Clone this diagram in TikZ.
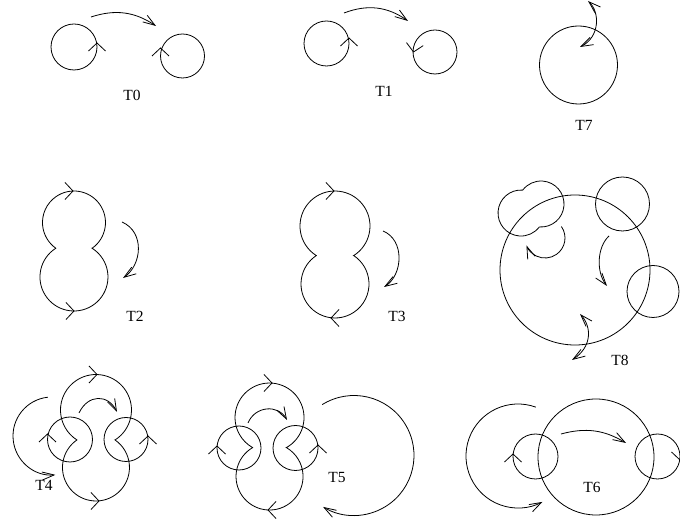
\documentclass[tikz,border=0pt]{standalone}
\usepackage{fontspec}
\setmainfont{Liberation Serif}
\usetikzlibrary{arrows.meta}
% direction mark on a loop: tip at (#1,#2), pointing at angle #3
\newcommand{\chev}[3]{\draw[shift={(#1,#2)}, rotate=#3] (-8,8.5) -- (0,0) -- (-8,-8.5);}

\begin{document}
\begin{tikzpicture}[x=1pt, y=1pt, line width=0.8pt,
    >={Straight Barb[length=12pt,width=8pt]},
    lbl/.style={font=\fontsize{15.5}{18}\selectfont, inner sep=0pt},
    mv/.style={->},
    sw/.style={<->}]
  \useasboundingbox (0,0) rectangle (680,527);
  % T0
  \draw (74,480) circle[radius=23];
  \chev{97}{484}{90}
  \draw (182.5,471) circle[radius=22];
  \chev{160.5}{479}{90}
  \draw[mv] (91,510) to[bend left=26] (156,501);
  \node[lbl] (t0) at (132,432) {T0};
  % T1
  \draw (326.5,483.5) circle[radius=22.5];
  \chev{349}{489}{90}
  \draw (435,475) circle[radius=22];
  \chev{413.5}{475}{260}
  \draw[mv] (344,514) to[bend left=28] (408,506);
  \node[lbl] (t1) at (384,436) {T1};
  % T7
  \draw (578.5,462) circle[radius=39];
  \draw[sw] (580,480) .. controls (600,490) and (600,515) .. (588,526);
  \node[lbl] (t7) at (584,402) {T7};
  % T2
  \draw (92.14,278.75) arc[start angle=-54.8, end angle=234.8, radius=31.5]
    arc[start angle=122.25, end angle=417.75, radius=34] -- cycle;
  \chev{73}{336}{0}
  \chev{74}{216}{0}
  \draw[mv] (122,305) .. controls (145,295) and (142,262) .. (123,249);
  \node[lbl] (t2) at (135,211) {T2};
  % T3
  \draw (353.7,271.4) arc[start angle=-57.7, end angle=237.7, radius=35]
    arc[start angle=123.4, end angle=416.6, radius=34] -- cycle;
  \chev{334}{336}{0}
  \chev{331}{209}{180}
  \draw[mv] (383,296) .. controls (405,287) and (403,252) .. (384,240);
  \node[lbl] (t3) at (397,211) {T3};
  % T8
  \draw (575,257) circle[radius=75];
  \draw (522.7,336.9) arc[start angle=85.8, end angle=322.8, radius=23]
    arc[start angle=-94.2, end angle=142.8, radius=23] -- cycle;
  \draw (622.5,323) circle[radius=27];
  \draw (653,235.5) circle[radius=26];
  \draw[mv] (545,289) ++(35:20) arc[start angle=35, end angle=-158, radius=20];
  \draw[mv] (609,291) .. controls (597,280) and (596,255) .. (607,241);
  \draw[sw] (580,213) .. controls (592,200) and (592,180) .. (572,167);
  \node[lbl] (t8) at (620,167) {T8};
  % T4
  \draw (115.06,87.05) arc[start angle=-57.5, end angle=237.5, radius=35.5]
    arc[start angle=124.7, end angle=415.3, radius=33.5] -- cycle;
  \draw (70,87.5) circle[radius=22.5];
  \draw (126,87.5) circle[radius=22];
  \chev{47.5}{93}{90}
  \chev{148}{91}{90}
  \chev{97}{152.5}{0}
  \chev{99}{26}{0}
  \draw[mv] (79,114) .. controls (88,133) and (108,133) .. (117,115);
  \draw[mv] (52,91) ++(96:39) arc[start angle=96, end angle=275, radius=39];
  \node[lbl] (t4) at (44,42) {T4};
  % T5
  \draw (286.4,79.4) arc[start angle=-60.7, end angle=240.7, radius=34.5]
    arc[start angle=120.3, end angle=419.7, radius=33.5] -- cycle;
  \draw (239,79) circle[radius=22];
  \draw (295.5,79) circle[radius=22.5];
  \chev{217}{81}{90}
  \chev{318}{82}{90}
  \chev{272}{144}{0}
  \chev{268}{17}{180}
  \draw[mv] (248,104) .. controls (255,121) and (278,123) .. (287,107);
  \draw[mv] (354,71.5) ++(122:60) arc[start angle=122, end angle=-121, radius=60];
  \node[lbl] (t5) at (337,49) {T5};
  % T6
  \draw (596,70) circle[radius=58];
  \draw (535.5,70.5) circle[radius=22.5];
  \draw (657.5,70.5) circle[radius=22.5];
  \chev{513}{73}{90}
  \chev{680}{67}{270}
  \draw[mv] (561,93) to[bend left=23] (626,84);
  \draw[mv] (518,71) ++(70:52) arc[start angle=70, end angle=298, radius=52];
  \node[lbl] (t6) at (592,40) {T6};
\end{tikzpicture}
\end{document}
